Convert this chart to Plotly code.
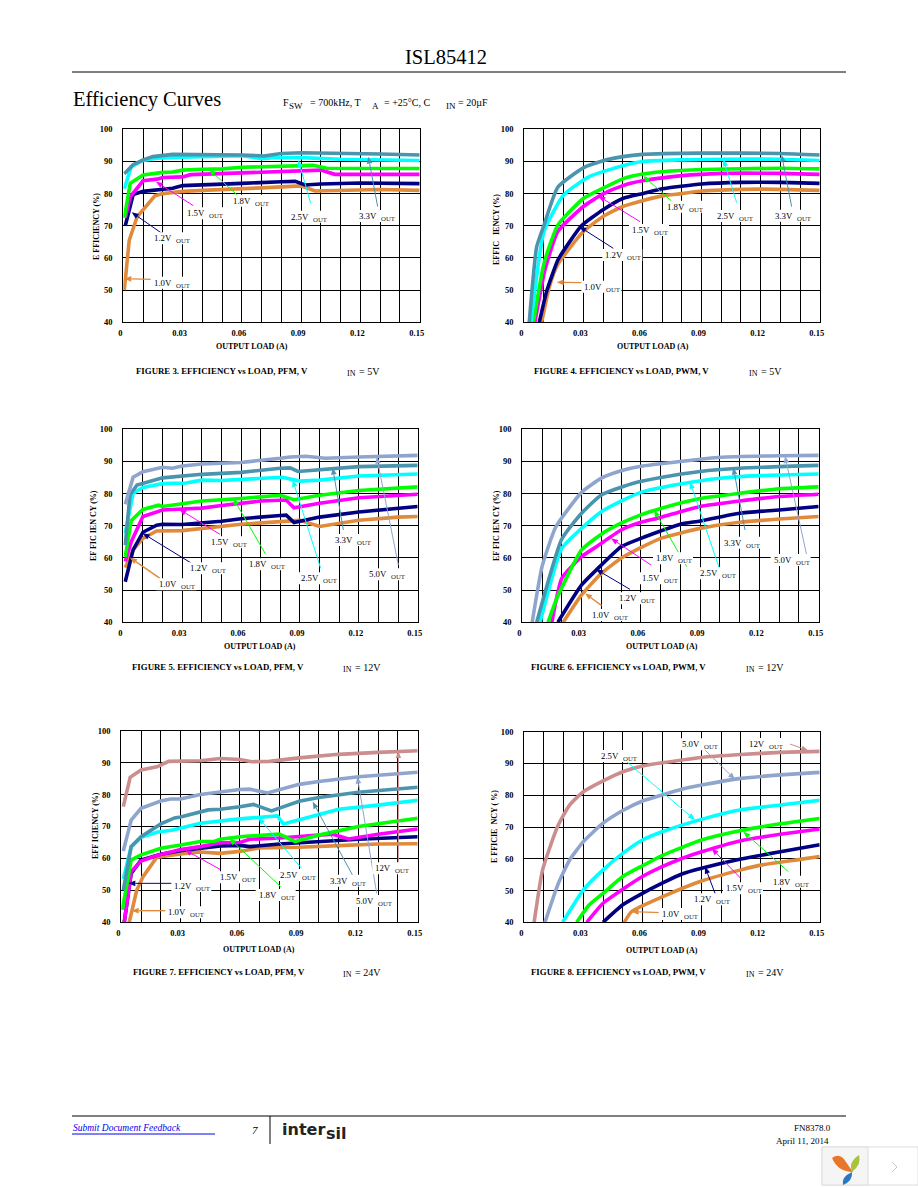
import math
import plotly.graph_objects as go

# ---------- series values (x = output load in A, y = efficiency in %) ----------
fig3_10_x = [.0005,.003,.007,.01,.016,.02,.03,.04,.05,.06,.07,.08,.09,.097,.11,.13,.15]
fig3_10_y = [50,65.5,72.8,75,79.3,80,80.7,81,81.2,81.6,81.8,82.1,82.4,80.8,81.1,81.3,81]
fig3_12_x = [.001,.005,.01,.02,.025,.03,.04,.06,.08,.087,.092,.1,.12,.15]
fig3_12_y = [70,79.7,80.7,81.3,81.7,82.5,82.8,83.2,83.7,83.8,82.7,83,83.3,83.1]
fig3_15_x = [.001,.0035,.01,.017,.02,.03,.034,.05,.07,.09,.1,.107,.15]
fig3_15_y = [72.5,79,84,84.5,85,85.2,85.9,86.2,86.5,87,87.3,86,86]
fig3_18_x = [.0005,.0035,.01,.02,.025,.03,.04,.05,.06,.08,.09,.096,.103,.15]
fig3_18_y = [72.5,83.2,85.8,86.6,86.7,87.3,87.6,87.7,88.2,88.5,88.7,88.8,87.9,87.8]
fig3_25_x = [.0005,.004,.01,.017,.03,.05,.06,.07,.076,.09,.11,.15]
fig3_25_y = [81.5,88.4,90.3,91,91.3,91.5,91.8,90.9,91.2,91.2,90.7,90.3]
fig3_33_x = [.0005,.005,.01,.015,.025,.05,.06,.071,.08,.09,.11,.12,.13,.15]
fig3_33_y = [86.2,89,90.5,91.5,92.2,92.1,92,91.7,92.5,92.7,92.5,92.6,92.3,92]

fig4_10_x = [.0088,.0127,.017,.03,.04,.05,.06,.07,.08,.09,.1,.12,.15]
fig4_10_y = [40,51,58,68.2,72.9,76,77.8,79.3,80,80.8,81.1,81.4,81]
fig4_12_x = [.0076,.0113,.017,.023,.029,.04,.05,.06,.07,.09,.11,.13,.15]
fig4_12_y = [40,49.5,59.3,65,70,75,78.5,80,81.5,83,83.5,83.5,83.2]
fig4_15_x = [.0054,.0105,.017,.03,.04,.05,.06,.08,.1,.13,.15]
fig4_15_y = [40,56.3,68.2,76,79.9,82.5,84,85.6,86.3,86.3,86]
fig4_18_x = [.0046,.01,.017,.03,.04,.05,.06,.07,.09,.13,.15]
fig4_18_y = [40,58.3,70.2,78.5,81.7,84.6,86.1,86.8,87.5,87.9,87.7]
fig4_25_x = [.0034,.01,.02,.033,.05,.06,.08,.1,.13,.15]
fig4_25_y = [40,68.2,79.6,85.3,88.7,90,90.5,90.7,90.7,90.3]
fig4_33_x = [.0025,.0063,.01,.017,.03,.04,.05,.06,.09,.13,.15]
fig4_33_y = [40,63.5,70.2,82,88,90.2,91.5,92.2,92.6,92.5,92]

fig5_10_x = [.001,.005,.01,.017,.03,.04,.05,.06,.08,.09,.1,.12,.14,.15]
fig5_10_y = [57,62.5,66.1,68.4,68.5,69.2,69.7,70.5,71.3,71.7,69.8,71.7,72.7,72.9]
fig5_12_x = [.001,.005,.01,.017,.02,.03,.05,.06,.08,.083,.087,.1,.12,.15]
fig5_12_y = [52.6,62.5,68,70.2,70.5,70.4,71.4,72.2,73.2,73.3,71,72.7,74.3,76]
fig5_15_x = [.001,.004,.01,.02,.03,.04,.05,.06,.07,.083,.087,.1,.12,.15]
fig5_15_y = [58.9,65,72.9,74.9,75.2,75.5,76.3,77,77.7,78,75.6,77,78.7,79.8]
fig5_18_x = [.001,.004,.01,.018,.02,.03,.04,.06,.08,.087,.1,.12,.15]
fig5_18_y = [60.4,71.6,75.1,76.4,76,76.9,77.7,78.5,79.5,78.1,79.5,81,82.1]
fig5_25_x = [.001,.005,.01,.02,.032,.04,.05,.07,.081,.09,.1,.12,.15]
fig5_25_y = [67.7,80.1,81.9,83.1,83.3,84.2,84.1,84.8,85.1,83.9,84.2,85.5,86.1]
fig5_33_x = [.001,.0034,.007,.02,.04,.06,.08,.085,.089,.1,.12,.15]
fig5_33_y = [64,79.6,82.7,84.9,86,86.6,87.9,88,86.9,87.5,88.4,88.8]
fig5_50_x = [.001,.005,.01,.02,.025,.03,.04,.06,.08,.085,.093,.103,.12,.14,.15]
fig5_50_y = [76.7,85.1,86.8,88.2,87.9,88.6,89.2,89.7,91,91.4,91.6,91,91.4,91.9,91.9]

fig6_10_x = [.0207,.03,.04,.05,.06,.07,.09,.11,.13,.15]
fig6_10_y = [40,48.5,55.2,59.9,63.2,66.1,69.2,71.1,72.1,72.9]
fig6_12_x = [.018,.03,.0375,.05,.06,.07,.08,.09,.11,.13,.15]
fig6_12_y = [40,51.6,56.3,63.5,66.1,68.4,70.5,71.5,73.9,74.9,76]
fig6_15_x = [.015,.02,.03,.0375,.05,.06,.07,.08,.09,.11,.13,.15]
fig6_15_y = [40,53.7,60.4,63.5,68.7,71.1,72.6,74.4,76,77.7,79.1,79.8]
fig6_18_x = [.013,.0175,.03,.04,.05,.06,.07,.09,.11,.13,.15]
fig6_18_y = [40,47.5,62.5,67.4,70.8,73.4,75.4,78.5,80.1,81.5,82.1]
fig6_25_x = [.009,.02,.03,.04,.05,.06,.08,.1,.12,.15]
fig6_25_y = [40,63,69.2,74.4,77.7,80.4,83,84.8,85.6,86.1]
fig6_33_x = [.0073,.02,.03,.04,.055,.07,.09,.11,.15]
fig6_33_y = [40,65.9,73.9,79.6,83,85,86.9,87.9,88.8]
fig6_50_x = [.005,.01,.017,.03,.04,.05,.06,.08,.1,.13,.15]
fig6_50_y = [40,57.3,69.7,80.4,84.8,87.1,88.5,90,91.3,91.8,91.9]

fig7_10_x = [.004,.0078,.011,.018,.03,.04,.05,.06,.07,.09,.11,.13,.15]
fig7_10_y = [40,50,54.3,60.4,61.4,62,61.6,62.2,63.3,63.5,64,64.5,64.6]
fig7_12_x = [.0015,.005,.01,.02,.03,.04,.05,.06,.065,.08,.1,.12,.15]
fig7_12_y = [40,55.3,59.5,61.3,62.4,63.2,63.9,64.1,63.7,64.5,65.3,66,66.8]
fig7_15_x = [.0015,.005,.01,.018,.03,.04,.05,.06,.065,.08,.1,.107,.115,.13,.15]
fig7_15_y = [40,55.9,59.2,60.9,62.8,63.7,64.9,65,66,66.4,67.3,67.6,66.1,67.6,69.2]
fig7_18_x = [.0005,.005,.01,.02,.03,.04,.047,.05,.06,.07,.08,.088,.1,.12,.15]
fig7_18_y = [43.9,59.5,61.1,63.2,64.2,65.3,65.3,66,66.8,67.3,67.6,65.3,67.3,70,72.6]
fig7_25_x = [.001,.005,.01,.018,.026,.04,.06,.07,.079,.082,.1,.11,.13,.15]
fig7_25_y = [53.6,63.7,66.6,68.2,68.9,71,72.4,73,73.3,70.8,73.6,75.4,76.7,78.2]
fig7_33_x = [.001,.005,.01,.02,.027,.03,.044,.05,.06,.067,.076,.09,.1,.12,.15]
fig7_33_y = [50,63.7,66.8,70.8,72.7,73,75.2,75.4,76.2,76.9,74.9,77.9,79.1,80.7,82.3]
fig7_50_x = [.001,.005,.01,.02,.025,.03,.04,.06,.065,.074,.09,.1,.12,.15]
fig7_50_y = [62.3,72,75.7,78,78.6,78.6,80,81.6,81.7,80.5,83.2,84.1,85.6,87]
fig7_120_x = [.001,.0045,.01,.018,.024,.04,.05,.06,.066,.075,.09,.11,.13,.15]
fig7_120_y = [76.2,85.4,87.7,88.7,90.4,90.6,91.3,91,90.3,90.4,91.5,92.6,93.2,93.7]

fig8_10_x = [.0508,.0545,.07,.09,.11,.12,.14,.15]
fig8_10_y = [40,43.4,48,53,56.5,58,59.8,60.7]
fig8_12_x = [.04,.05,.06,.07,.08,.09,.11,.13,.15]
fig8_12_y = [40,45.5,49.1,52.3,55.2,57,59.9,62.2,64.4]
fig8_15_x = [.0317,.04,.05,.06,.07,.08,.09,.11,.13,.15]
fig8_15_y = [40,46,50.4,54.4,57.5,60.1,62.2,65.7,67.7,69.4]
fig8_18_x = [.0266,.033,.04,.05,.06,.07,.09,.11,.13,.15]
fig8_18_y = [40,45.5,49.1,54.4,57.8,61,65.9,68.9,71,72.7]
fig8_25_x = [.0195,.03,.04,.05,.06,.07,.09,.11,.13,.15]
fig8_25_y = [40,50.2,56.5,61.7,65.9,68.5,72.4,75.4,76.9,78.4]
fig8_50_x = [.0105,.017,.023,.03,.04,.05,.06,.07,.08,.09,.11,.13,.15]
fig8_50_y = [40,51.8,59.6,65.4,71.2,75.2,78.2,80.1,81.9,83.2,85.3,86.4,87.2]
fig8_120_x = [.005,.0093,.017,.023,.03,.04,.05,.06,.07,.09,.11,.13,.15]
fig8_120_y = [40,56.5,70.3,76.9,81.1,84.5,87.4,89.2,90.2,91.9,92.8,93.5,93.8]

# ---------- categories, tick labels ----------
x_tick_vals = [0, 0.03, 0.06, 0.09, 0.12, 0.15]
x_tick_labels = ["0", "0.03", "0.06", "0.09", "0.12", "0.15"]
y_grid = [40, 50, 60, 70, 80, 90, 100]

C = {"1.0V": "#E08A3C", "1.2V": "#000080", "1.5V": "#FF00FF", "1.8V": "#00FF00",
     "2.5V": "#00FFFF", "3.3V": "#4A94AE", "5.0V": "#8FA5CE", "12V": "#CB8D8D"}

W, H = 918, 1188
SERIF = "Liberation Serif"
PX = lambda v: v / W
PY = lambda v: 1 - v / H

panels = [
    dict(box=(123.3, 419.7, 129.3, 322.3), origin=(60, 40), smooth=False,
         series=[("1.0V", fig3_10_x, fig3_10_y), ("1.2V", fig3_12_x, fig3_12_y), ("1.5V", fig3_15_x, fig3_15_y),
                 ("1.8V", fig3_18_x, fig3_18_y), ("2.5V", fig3_25_x, fig3_25_y), ("3.3V", fig3_33_x, fig3_33_y)],
         ytitle="E FFICIENCY (%)", ytitle_pos=(96, 227), xtitle_pos=(252, 347),
         cap=("FIGURE 3. EFFICIENCY vs LOAD, PFM, V", 135, 371, 346, "= 5V", 358),
         arrows=[("3.3V", 953, 500, 925, 350, 895, 528), ("2.5V", 752, 490, 715, 360, 690, 530),
                 ("1.8V", 540, 473, 447, 388, 515, 482), ("1.5V", 400, 497, 288, 425, 377, 520),
                 ("1.2V", 310, 583, 215, 517, 280, 595), ("1.0V", 280, 718, 193, 716, 278, 728)]),
    dict(box=(524.3, 819.7, 129.3, 322.3), origin=(470, 110), smooth=True,
         series=[("1.0V", fig4_10_x, fig4_10_y), ("1.2V", fig4_12_x, fig4_12_y), ("1.5V", fig4_15_x, fig4_15_y),
                 ("1.8V", fig4_18_x, fig4_18_y), ("2.5V", fig4_25_x, fig4_25_y), ("3.3V", fig4_33_x, fig4_33_y)],
         ytitle="EFFIC   IENCY (%)", ytitle_pos=(497, 230), xtitle_pos=(653, 346),
         cap=("FIGURE 4. EFFICIENCY vs LOAD, PWM, V", 533, 371, 748, "= 5V", 760),
         arrows=[("3.3V", 965, 290, 935, 135, 912, 317), ("2.5V", 800, 278, 760, 148, 738, 318),
                 ("1.8V", 610, 278, 520, 198, 588, 290), ("1.5V", 510, 335, 385, 258, 483, 360),
                 ("1.2V", 430, 415, 328, 350, 403, 435), ("1.0V", 340, 518, 260, 517, 340, 530)]),
    dict(box=(123.3, 417.7, 429.3, 622.3), origin=(70, 415), smooth=False,
         series=[("1.0V", fig5_10_x, fig5_10_y), ("1.2V", fig5_12_x, fig5_12_y), ("1.5V", fig5_15_x, fig5_15_y),
                 ("1.8V", fig5_18_x, fig5_18_y), ("2.5V", fig5_25_x, fig5_25_y), ("3.3V", fig5_33_x, fig5_33_y),
                 ("5.0V", fig5_50_x, fig5_50_y)],
         ytitle="EF FIC IEN CY (%)", ytitle_pos=(94, 526), xtitle_pos=(260, 646),
         cap=("FIGURE 5. EFFICIENCY vs LOAD, PFM, V", 131, 667, 342, "= 12V", 354),
         arrows=[("5.0V", 985, 450, 920, 125, 893, 478), ("3.3V", 820, 345, 788, 158, 792, 375),
                 ("2.5V", 752, 460, 668, 195, 690, 490), ("1.8V", 587, 418, 490, 250, 533, 448),
                 ("1.5V", 450, 358, 328, 283, 420, 382), ("1.2V", 365, 445, 218, 355, 358, 460),
                 ("1.0V", 270, 490, 180, 428, 265, 508)]),
    dict(box=(522.3, 818.7, 429.3, 622.3), origin=(470, 415), smooth=True,
         series=[("1.0V", fig6_10_x, fig6_10_y), ("1.2V", fig6_12_x, fig6_12_y), ("1.5V", fig6_15_x, fig6_15_y),
                 ("1.8V", fig6_18_x, fig6_18_y), ("2.5V", fig6_25_x, fig6_25_y), ("3.3V", fig6_33_x, fig6_33_y),
                 ("5.0V", fig6_50_x, fig6_50_y)],
         ytitle="EF FIC IEN CY (%)", ytitle_pos=(497, 526), xtitle_pos=(662, 646),
         cap=("FIGURE 6. EFFICIENCY vs LOAD, PWM, V", 530, 667, 745, "= 12V", 757),
         arrows=[("5.0V", 1010, 420, 945, 123, 908, 435), ("3.3V", 825, 345, 790, 158, 758, 383),
                 ("2.5V", 748, 460, 660, 200, 688, 475), ("1.8V", 650, 455, 552, 285, 555, 430),
                 ("1.5V", 543, 450, 423, 370, 513, 490), ("1.2V", 480, 523, 378, 463, 445, 550),
                 ("1.0V", 395, 572, 345, 535, 362, 600)]),
    dict(box=(121.3, 417.7, 730.7, 922.3), origin=(70, 720), smooth=False,
         series=[("1.0V", fig7_10_x, fig7_10_y), ("1.2V", fig7_12_x, fig7_12_y), ("1.5V", fig7_15_x, fig7_15_y),
                 ("1.8V", fig7_18_x, fig7_18_y), ("2.5V", fig7_25_x, fig7_25_y), ("3.3V", fig7_33_x, fig7_33_y),
                 ("5.0V", fig7_50_x, fig7_50_y), ("12V", fig7_120_x, fig7_120_y)],
         ytitle="EFF ICIENCY (%)", ytitle_pos=(95, 826), xtitle_pos=(259, 949),
         cap=("FIGURE 7. EFFICIENCY vs LOAD, PFM, V", 132, 972, 342, "= 24V", 354),
         arrows=[("12V", 985, 460, 985, 93, 913, 445), ("5.0V", 920, 520, 862, 170, 855, 543),
                 ("3.3V", 850, 470, 728, 245, 777, 482), ("2.5V", 695, 445, 565, 293, 627, 465),
                 ("1.8V", 632, 500, 478, 355, 563, 525), ("1.5V", 450, 448, 345, 390, 448, 472),
                 ("1.2V", 310, 490, 175, 490, 310, 498), ("1.0V", 292, 572, 185, 572, 292, 577)]),
    dict(box=(524.3, 819.7, 731.7, 922.3), origin=(470, 720), smooth=True,
         series=[("1.0V", fig8_10_x, fig8_10_y), ("1.2V", fig8_12_x, fig8_12_y), ("1.5V", fig8_15_x, fig8_15_y),
                 ("1.8V", fig8_18_x, fig8_18_y), ("2.5V", fig8_25_x, fig8_25_y), ("5.0V", fig8_50_x, fig8_50_y),
                 ("12V", fig8_120_x, fig8_120_y)],
         ytitle="E FFICIE  NCY ( %)", ytitle_pos=(494, 827), xtitle_pos=(662, 950),
         cap=("FIGURE 8. EFFICIENCY vs LOAD, PWM, V", 530, 972, 745, "= 24V", 757),
         arrows=[("12V", 960, 72, 1015, 92, 833, 72), ("5.0V", 705, 90, 795, 178, 633, 73),
                 ("2.5V", 470, 125, 675, 300, 390, 108), ("1.8V", 955, 455, 820, 335, 907, 485),
                 ("1.5V", 812, 475, 725, 385, 765, 505), ("1.2V", 737, 525, 705, 440, 668, 538),
                 ("1.0V", 575, 578, 485, 575, 572, 582)]),
]

fig = go.Figure()
annotations, shapes = [], []


def text_at(txt, x, y, size=9, anchor="left", bold=False, color="#000", font=SERIF, angle=0, italic=False, bg=None):
    annotations.append(dict(
        text=txt, x=PX(x), y=PY(y), xref="paper", yref="paper", showarrow=False,
        xanchor=anchor, yanchor="middle", textangle=angle, borderpad=0, bgcolor=bg,
        font=dict(family=font, size=size, color=color, weight="bold" if bold else "normal",
                  style="italic" if italic else "normal")))


def line_at(x0, y0, x1, y1, color="#000", width=1):
    shapes.append(dict(type="line", xref="paper", yref="paper", x0=PX(x0), y0=PY(y0), x1=PX(x1), y1=PY(y1),
                       line=dict(color=color, width=width)))


def path_at(points, fill, line=None):
    d = ""
    for cmd, *xy in points:
        d += cmd + " ".join(f"{PX(xy[i]):.5f},{PY(xy[i + 1]):.5f}" for i in range(0, len(xy), 2)) + " "
    shapes.append(dict(type="path", xref="paper", yref="paper", path=d + ("Z" if fill != "rgba(0,0,0,0)" else ""),
                       fillcolor=fill, line=dict(color=line or "rgba(0,0,0,0)", width=1)))


def arrow_at(qx, qy, px, py, color, width=1.0, length=7.0, half=2.8):
    dx, dy = px - qx, py - qy
    n = math.hypot(dx, dy) or 1
    ux, uy = dx / n, dy / n
    bx, by = px - ux * length, py - uy * length
    line_at(qx, qy, bx, by, color=color, width=width)
    path_at([("M", px, py), ("L", bx - uy * half, by + ux * half), ("L", bx + uy * half, by - ux * half)], color)


layout_axes = {}
for i, p in enumerate(panels, start=1):
    x0, x1, y0, y1 = p["box"]
    xa, ya = f"x{i}", f"y{i}"
    for name, xs, ys in p["series"]:
        ln = dict(color=C[name], width=3.6)
        if p["smooth"]:
            ln.update(shape="spline", smoothing=0.5)
        fig.add_trace(go.Scatter(x=xs, y=ys, mode="lines", xaxis=xa, yaxis=ya, showlegend=False, name=name,
                                 line=ln, hoverinfo="skip"))
    tick = dict(family=SERIF, size=8.5, color="#000", weight="bold")
    layout_axes[f"xaxis{i}"] = dict(
        domain=[PX(x0), PX(x1)], range=[0, 0.15], anchor=ya, tickmode="array", tickvals=x_tick_vals,
        ticktext=x_tick_labels, tickangle=0, showgrid=True, gridcolor="#000", gridwidth=1, zeroline=False,
        showline=True, mirror=True, linecolor="#000", linewidth=1, ticks="", tickfont=tick,
        ticklabelshift=-3, ticklabelstandoff=2,
        minor=dict(tick0=0, dtick=0.01, showgrid=True, gridcolor="#000", gridwidth=1, ticks=""))
    layout_axes[f"yaxis{i}"] = dict(
        domain=[PY(y1), PY(y0)], range=[40, 100], anchor=xa, tickmode="array", tickvals=y_grid,
        ticktext=[str(v) for v in y_grid], showgrid=True, gridcolor="#000", gridwidth=1, zeroline=False,
        showline=True, mirror=True, linecolor="#000", linewidth=1, ticks="", tickfont=tick,
        ticklabelstandoff=8)

    ox, oy = p["origin"]
    for name, tx, ty, hx, hy, lx, ly in p["arrows"]:
        arrow_at(ox + tx / 3, oy + ty / 3, ox + hx / 3, oy + hy / 3, C[name], width=1.4 if name == "1.0V" else 1.0)
    for name, tx, ty, hx, hy, lx, ly in p["arrows"]:
        lpx, lpy = ox + lx / 3, oy + ly / 3
        shapes.append(dict(type="rect", xref="paper", yref="paper", x0=PX(lpx - 2), x1=PX(lpx + 38),
                           y0=PY(lpy + 6), y1=PY(lpy - 6), fillcolor="#fff", line=dict(width=0)))
        text_at(name, lpx, lpy, size=8.8)
        text_at("OUT", lpx + (20 if name == "12V" else 22), lpy + 2.5, size=6.8, color="#222")

    tx, ty = p["ytitle_pos"]
    text_at(p["ytitle"], tx, ty, size=8, anchor="center", bold=True, angle=-90)
    tx, ty = p["xtitle_pos"]
    text_at("OUTPUT LOAD (A)", tx, ty, size=8, anchor="center", bold=True)
    cap, cx, cy, inx, eq, eqx = p["cap"]
    text_at(cap, cx, cy, size=8.8, bold=True)
    text_at("IN", inx, cy + 2, size=8)
    text_at(eq, eqx, cy, size=10)

# ---------- page furniture ----------
text_at("ISL85412", 446, 57, size=20.5, anchor="center")
line_at(72, 72, 846, 72, width=1)
text_at("Efficiency Curves", 72, 99, size=20.5)
text_at("F", 282, 102, size=10)
text_at("SW", 288, 106, size=9)
text_at("= 700kHz, T", 309, 102, size=10)
text_at("A", 371, 106, size=9)
text_at("= +25°C, C", 383, 102, size=10)
text_at("IN", 445, 106, size=9)
text_at("= 20µF", 457, 102, size=10)

line_at(72, 1116, 846, 1116, width=1)
line_at(270, 1116, 270, 1144, width=1)
text_at("Submit Document Feedback", 72, 1128, size=9.5, italic=True, color="#0000EE")
line_at(72, 1134, 215, 1134, color="#0000EE", width=1)
text_at("7", 251, 1130, size=11, italic=True)
text_at("inter", 281, 1129, size=16, bold=True, font="DejaVu Sans", color="#222")
text_at("sil", 325, 1133, size=16, bold=True, font="DejaVu Sans", color="#222")
text_at("FN8378.0", 832, 1128, size=9, anchor="right")
text_at("April 11, 2014", 830, 1141, size=9, anchor="right")

# bottom-right page widget
shapes.append(dict(type="rect", xref="paper", yref="paper", x0=PX(822), x1=PX(918), y0=PY(1185), y1=PY(1147),
                   fillcolor="#fff", line=dict(color="#ddd", width=1)))
shapes.append(dict(type="rect", xref="paper", yref="paper", x0=PX(822), x1=PX(868), y0=PY(1185), y1=PY(1147),
                   fillcolor="#f5f5f5", line=dict(color="#ddd", width=1)))
path_at([("M", 832, 1158), ("Q", 840, 1152, 846, 1162), ("Q", 850, 1168, 853, 1172), ("Q", 838, 1172, 832, 1158)], "#E8762B")
path_at([("M", 859, 1155), ("Q", 862, 1164, 852, 1172), ("Q", 848, 1162, 859, 1155)], "#A9C43C")
path_at([("M", 852, 1172), ("Q", 853, 1181, 843, 1185), ("Q", 841, 1177, 852, 1172)], "#2A78C2")
path_at([("M", 892, 1162), ("L", 897, 1167), ("L", 892, 1172)], "rgba(0,0,0,0)", "#c8c8c8")

fig.update_layout(width=W, height=H, margin=dict(l=0, r=0, t=0, b=0, pad=0, autoexpand=False),
                  paper_bgcolor="#fff", plot_bgcolor="#fff",
                  showlegend=False, annotations=annotations, shapes=shapes, **layout_axes)

fig.write_html("out.html", config=dict(displayModeBar=False),
               post_script="document.body.style.margin='0';document.documentElement.style.overflow='hidden';")
